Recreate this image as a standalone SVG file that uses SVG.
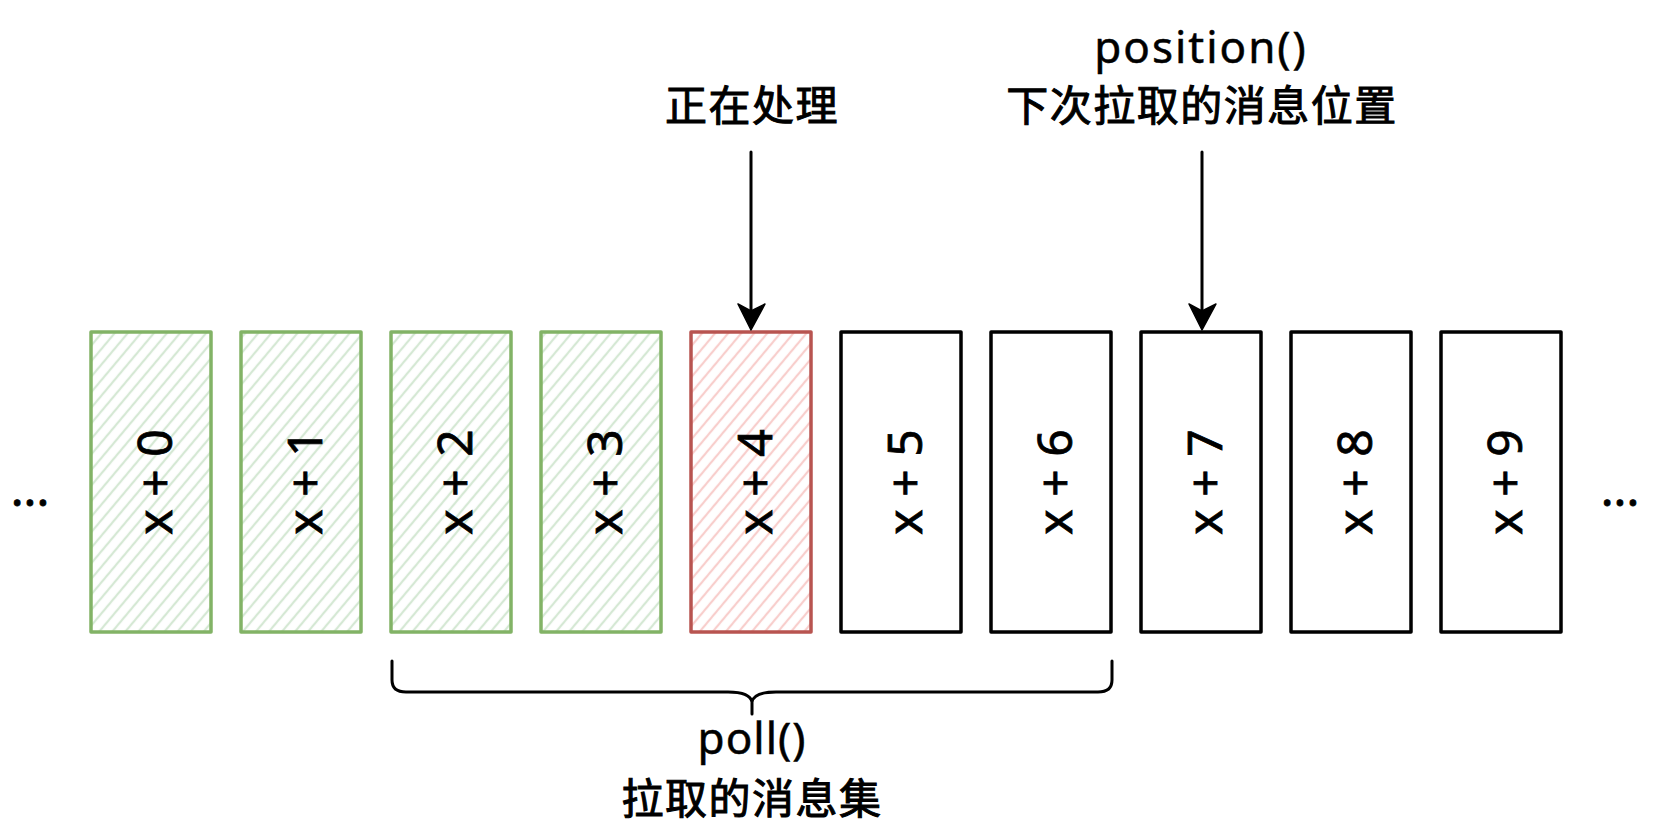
<svg xmlns="http://www.w3.org/2000/svg" width="1653" height="825" viewBox="0 0 1653 825">
<style>
.box{stroke-width:3.5;stroke-linejoin:round}
.g{stroke:#82b366;fill:url(#hg)}
.r{stroke:#b85450;fill:url(#hr)}
.k{stroke:#000;fill:#fff}
.lbl{font-family:"Noto Sans","DejaVu Sans",sans-serif;font-size:48px;fill:#000;text-anchor:middle;stroke:#000;stroke-width:0.8px}
.t{font-family:"Noto Sans","Noto Sans CJK SC",sans-serif;font-size:44px;fill:#000;text-anchor:middle;stroke:#000;stroke-width:0.5px}
.cjk{font-family:"Noto Sans CJK SC","Noto Sans",sans-serif;font-size:42px;fill:#000;text-anchor:middle;letter-spacing:1.5px;stroke:#000;stroke-width:1px}
.line{stroke:#000;stroke-width:3;fill:none;stroke-linecap:round}
</style>
<defs>
<pattern id="hg" width="10" height="10" patternUnits="userSpaceOnUse" patternTransform="rotate(40)">
<rect width="10" height="10" fill="#fff"/>
<line x1="2" y1="0" x2="2" y2="10" stroke="#d5e8d4" stroke-width="2.2"/>
</pattern>
<pattern id="hr" width="10" height="10" patternUnits="userSpaceOnUse" patternTransform="rotate(40)">
<rect width="10" height="10" fill="#fff"/>
<line x1="2" y1="0" x2="2" y2="10" stroke="#f8cecc" stroke-width="2.2"/>
</pattern>
</defs>
<rect width="1653" height="825" fill="#fff"/>
<g id="ellipsis-left"><text class="lbl" x="30" y="506" font-size="40">...</text></g>
<g id="ellipsis-right"><text class="lbl" x="1620" y="506" font-size="40">...</text></g>
<g id="m0"><rect class="box g" x="91" y="332" width="120" height="300"/><text class="lbl" transform="translate(172,482) rotate(-90)">x + 0</text></g>
<g id="m1"><rect class="box g" x="241" y="332" width="120" height="300"/><text class="lbl" transform="translate(322,482) rotate(-90)">x + 1</text></g>
<g id="m2"><rect class="box g" x="391" y="332" width="120" height="300"/><text class="lbl" transform="translate(472,482) rotate(-90)">x + 2</text></g>
<g id="m3"><rect class="box g" x="541" y="332" width="120" height="300"/><text class="lbl" transform="translate(622,482) rotate(-90)">x + 3</text></g>
<g id="m4"><rect class="box r" x="691" y="332" width="120" height="300"/><text class="lbl" transform="translate(772,482) rotate(-90)">x + 4</text></g>
<g id="m5"><rect class="box k" x="841" y="332" width="120" height="300"/><text class="lbl" transform="translate(922,482) rotate(-90)">x + 5</text></g>
<g id="m6"><rect class="box k" x="991" y="332" width="120" height="300"/><text class="lbl" transform="translate(1072,482) rotate(-90)">x + 6</text></g>
<g id="m7"><rect class="box k" x="1141" y="332" width="120" height="300"/><text class="lbl" transform="translate(1222,482) rotate(-90)">x + 7</text></g>
<g id="m8"><rect class="box k" x="1291" y="332" width="120" height="300"/><text class="lbl" transform="translate(1372,482) rotate(-90)">x + 8</text></g>
<g id="m9"><rect class="box k" x="1441" y="332" width="120" height="300"/><text class="lbl" transform="translate(1522,482) rotate(-90)">x + 9</text></g>
<g id="label-processing"><text class="cjk" x="752" y="121">正在处理</text></g>
<g id="label-position"><text class="t" x="1201" y="63" font-size="42" letter-spacing="2">position()</text><text class="cjk" x="1202" y="121">下次拉取的消息位置</text></g>
<g id="label-poll"><text class="t" x="752" y="754" letter-spacing="1">poll()</text><text class="cjk" x="752" y="814">拉取的消息集</text></g>
<g id="connectors">
<line class="line" x1="751" y1="152" x2="751" y2="312"/>
<path d="M751,330 L738,304 L751,311 L765,304 Z" fill="#000" stroke="#000" stroke-width="1.5" stroke-linejoin="round"/>
<line class="line" x1="1202" y1="152" x2="1202" y2="312"/>
<path d="M1202,330 L1189,304 L1202,311 L1216,304 Z" fill="#000" stroke="#000" stroke-width="1.5" stroke-linejoin="round"/>
<path class="line" d="M392,661 L392,680 Q392,692 406,692 L728,692 Q750,692 752,702 L752,714 M752,702 Q754,692 776,692 L1098,692 Q1112,692 1112,680 L1112,661"/>
</g>
</svg>
